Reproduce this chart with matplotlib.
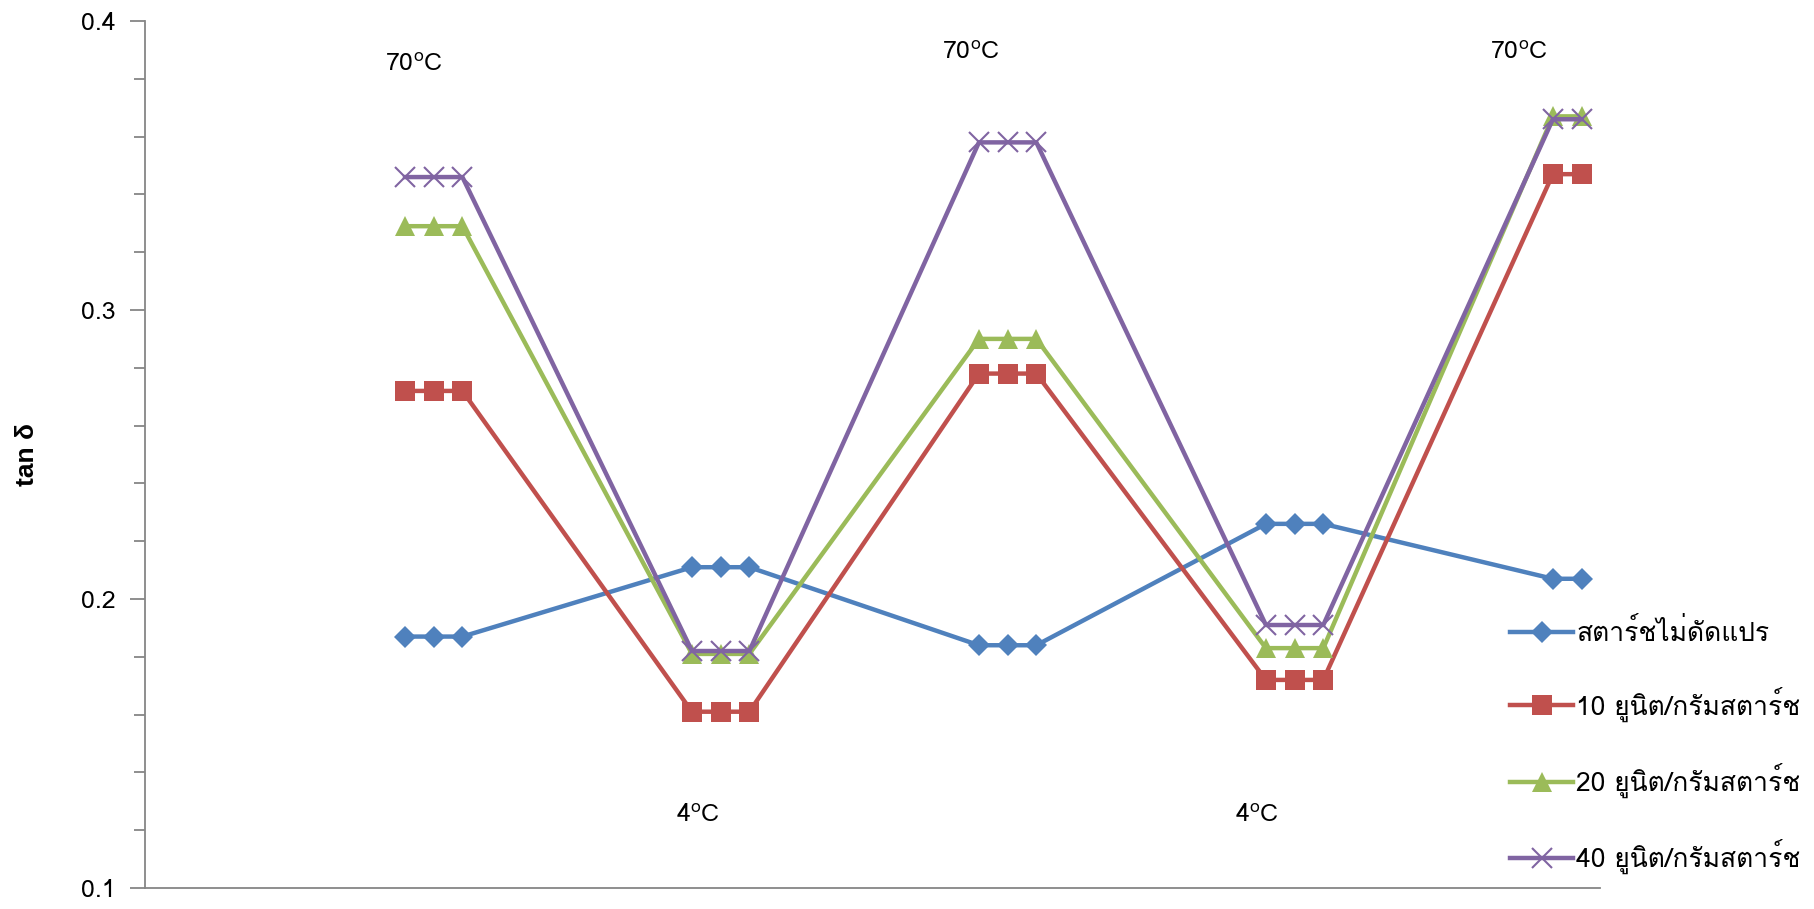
import matplotlib
matplotlib.use('Agg')
import matplotlib.pyplot as plt
from matplotlib import font_manager
from matplotlib.ft2font import FT2Font
from matplotlib.ticker import MultipleLocator, FormatStrFormatter

# ---------------- data ----------------
x_pos = [0.0, 0.1, 0.2, 1.0, 1.1, 1.2, 2.0, 2.1, 2.2, 3.0, 3.1, 3.2, 4.0, 4.1]
native = [0.187, 0.187, 0.187, 0.211, 0.211, 0.211, 0.184, 0.184, 0.184,
          0.226, 0.226, 0.226, 0.207, 0.207]
u10 = [0.272, 0.272, 0.272, 0.161, 0.161, 0.161, 0.278, 0.278, 0.278,
       0.172, 0.172, 0.172, 0.347, 0.347]
u20 = [0.329, 0.329, 0.329, 0.181, 0.181, 0.181, 0.290, 0.290, 0.290,
       0.183, 0.183, 0.183, 0.367, 0.367]
u40 = [0.346, 0.346, 0.346, 0.182, 0.182, 0.182, 0.358, 0.358, 0.358,
       0.191, 0.191, 0.191, 0.366, 0.366]
series_labels = ["สตาร์ชไม่ดัดแปร", "10 ยูนิต/กรัมสตาร์ช",
                 "20 ยูนิต/กรัมสตาร์ช", "40 ยูนิต/กรัมสตาร์ช"]
temp_labels = ["70$^\\mathregular{o}$C", "4$^\\mathregular{o}$C", "70$^\\mathregular{o}$C",
               "4$^\\mathregular{o}$C", "70$^\\mathregular{o}$C"]
temp_x = [0.03, 1.02, 1.97, 2.97, 3.88]
temp_y = [0.385, 0.125, 0.389, 0.125, 0.389]
y_label = "tan δ"

# ------------- find a font with Thai glyphs -------------
def find_font(chars):
    best = None
    for f in font_manager.fontManager.ttflist:
        try:
            cmap = FT2Font(f.fname).get_charmap()
        except Exception:
            continue
        if all(ord(c) in cmap for c in chars):
            if f.weight in (400, 'normal', 'regular') and f.style == 'normal':
                return f.name
            if best is None:
                best = f.name
    return best

thai_chars = set("".join(series_labels).replace(" ", ""))
thai_font = find_font(thai_chars)
families = ([thai_font] if thai_font else []) + ['DejaVu Sans']
plt.rcParams['font.family'] = families

colors = ['#4F81BD', '#C0504D', '#9BBB59', '#8064A2']
markers = ['D', 's', '^', 'x']
msizes = [11, 14, 15, 14]

fig = plt.figure(figsize=(18.15, 9.09), dpi=100)
ax = fig.add_axes([0.0799, 0.0231, 0.8016, 0.9538])

for ys, c, m, ms, lab in zip([native, u10, u20, u40], colors, markers, msizes, series_labels):
    kw = dict(color=c, lw=3.2, marker=m, markersize=ms, label=lab,
              markerfacecolor=c, markeredgecolor=c)
    if m == 'x':
        kw['markeredgewidth'] = 1.5
    else:
        kw['markeredgewidth'] = 0
    ax.plot(x_pos, ys, **kw)

ax.set_xlim(-0.906, 4.164)
ax.set_ylim(0.1, 0.4)
ax.yaxis.set_major_locator(MultipleLocator(0.1))
ax.yaxis.set_minor_locator(MultipleLocator(0.02))
ax.yaxis.set_major_formatter(FormatStrFormatter('%.1f'))
ax.set_xticks([])
for s in ['top', 'right']:
    ax.spines[s].set_visible(False)
for s in ['left', 'bottom']:
    ax.spines[s].set_color('#868686')
    ax.spines[s].set_linewidth(1.3)
ax.tick_params(axis='y', which='major', length=11, width=1.3, color='#868686',
               labelsize=18, pad=10)
ax.tick_params(axis='y', which='minor', length=8, width=1.3, color='#868686')

ax.set_ylabel(y_label, fontsize=19, fontweight='bold', labelpad=30,
              family=['Liberation Sans', 'DejaVu Sans'])

for t, x, y in zip(temp_labels, temp_x, temp_y):
    ax.text(x, y, t, fontsize=18, ha='center', va='center')

leg = ax.legend(loc='center left', bbox_to_anchor=(1510 / 1815, 1 - 746 / 909),
                bbox_transform=fig.transFigure, frameon=False, fontsize=19,
                labelspacing=1.55, handlelength=2.4, handletextpad=0.1,
                borderaxespad=0, borderpad=0)

fig.savefig('out.png', dpi=100)
